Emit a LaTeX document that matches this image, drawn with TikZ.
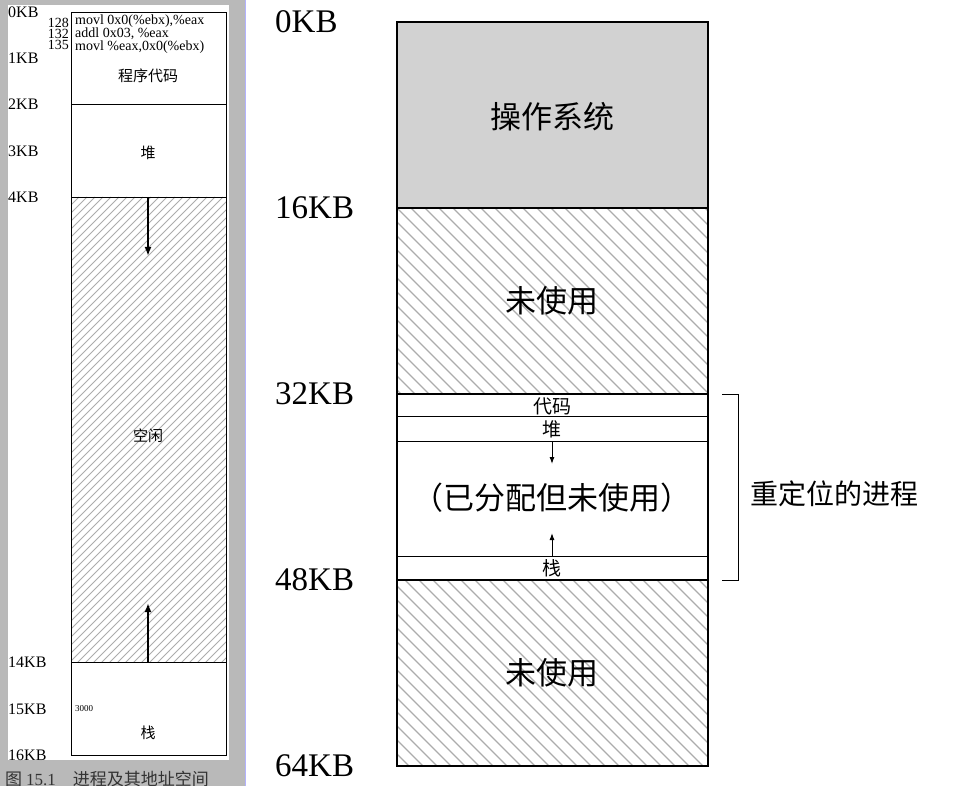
\documentclass[tikz,border=0pt]{standalone}
\usepackage{fontspec}
\setmainfont{Liberation Serif}
\newfontfamily\cjk{Noto Sans CJK SC}
\usetikzlibrary{arrows.meta}
\begin{document}
\begin{tikzpicture}[x=1pt,y=-1pt,
  lbl/.style={anchor=west,inner sep=0pt},
  big/.style={lbl,font=\fontsize{33}{33}\selectfont},
  small/.style={lbl,font=\fontsize{16}{16}\selectfont},
  zh/.style={font=\cjk\fontsize{15}{15}\selectfont,inner sep=0pt},
  zhb/.style={font=\cjk\fontsize{31}{31}\selectfont,inner sep=0pt},
  zhm/.style={font=\cjk\fontsize{19}{19}\selectfont,inner sep=0pt},
  box/.style={draw,line width=0.8pt},
  bbox/.style={draw,line width=1.6pt},
  arr/.style={-{Latex[length=9pt,width=7pt]},line width=1.8pt},
  arrs/.style={-{Latex[length=7pt,width=5pt]},line width=1pt},
  hatch/.style={gray!65,line width=1.2pt}]
\useasboundingbox (0,0) rectangle (958,786);
% left panel
\fill[gray!55] (0,0) rectangle (246,786);
\draw[blue!30,line width=1pt] (245,0) -- (245,786);
\fill[white] (8,5) rectangle (229,760);
\draw[box] (71,12) rectangle (226,104);
\node[zh] (code) at (148,76) {程序代码};
\draw[box] (71,104) rectangle (226,197);
\node[zh] (heap) at (148,153) {堆};
\begin{scope}
\clip (71,197) rectangle (226,662);
\foreach \k in {0,8,...,640} \draw[hatch,line width=0.9pt] (71+\k,197) -- ++(-480,480);
\end{scope}
\draw[box] (71,197) rectangle (226,662);
\node[zh] (free) at (148,436) {空闲};
\coordinate (ha) at (148,197); \coordinate (hb) at (148,256);
\draw[arr] (ha) -- (hb);
\coordinate (sa) at (148,662); \coordinate (sb) at (148,603);
\draw[arr] (sa) -- (sb);
\draw[box] (71,662) rectangle (226,755);
\node[zh] (stack) at (148,733) {栈};
\node[lbl,font=\fontsize{9}{9}\selectfont] (n3000) at (75,709) {3000};
\foreach \t/\y/\n in {0KB/12/a,1KB/58/b,2KB/104/c,3KB/151/d,4KB/197/e,14KB/662/f,15KB/709/g,16KB/755/h}
  \node[small] (L\n) at (8,\y) {\t};
\node[anchor=east,inner sep=0pt,font=\fontsize{14}{11}\selectfont,align=right] (nums) at (69,34) {128\\132\\135};
\node[lbl,font=\fontsize{14}{11}\selectfont,align=left] (instr) at (75,34) {movl 0x0(\%ebx),\%eax\\addl 0x03, \%eax\\movl \%eax,0x0(\%ebx)};
\node[lbl,font=\cjk\fontsize{17}{17}\selectfont,gray!40!black] (cap) at (5,779) {图 {\rmfamily 15.1}\quad 进程及其地址空间};
% right panel
\fill[gray!35] (397,22) rectangle (708,208);
\begin{scope}
\clip (397,208) rectangle (708,394) (397,580) rectangle (708,766);
\foreach \k in {-560,-546,...,330} \draw[hatch] (397+\k,208) -- ++(560,560);
\end{scope}
\draw[box] (397,416) -- (708,416) (397,441) -- (708,441) (397,556) -- (708,556);
\draw[bbox] (397,22) rectangle (708,766);
\draw[bbox] (397,208) -- (708,208) (397,394) -- (708,394) (397,580) -- (708,580);
\node[zhb] (os) at (552,117) {操作系统};
\node[zhb] (u1) at (552,301) {未使用};
\node[zhb] (u2) at (552,673) {未使用};
\node[zhb] (alloc) at (552,498) {（已分配但未使用）};
\node[zhm] (rc) at (552,406) {代码};
\node[zhm] (rh) at (552,429) {堆};
\node[zhm] (rs) at (552,568) {栈};
\coordinate (r1) at (552,441); \coordinate (r2) at (552,464);
\draw[arrs] (r1) -- (r2);
\coordinate (r3) at (552,556); \coordinate (r4) at (552,533);
\draw[arrs] (r3) -- (r4);
\foreach \t/\y/\n in {0KB/22/a,16KB/208/b,32KB/394/c,48KB/580/d,64KB/766/e}
  \node[big] (R\n) at (275,\y) {\t};
\coordinate (b1) at (722,394); \coordinate (b2) at (738,394);
\coordinate (b3) at (738,580); \coordinate (b4) at (722,580);
\draw[line width=0.8pt] (b1) -- (b2) -- (b3) -- (b4);
\node[lbl,font=\cjk\fontsize{28}{28}\selectfont] (proc) at (750,494) {重定位的进程};
\end{tikzpicture}
\end{document}
